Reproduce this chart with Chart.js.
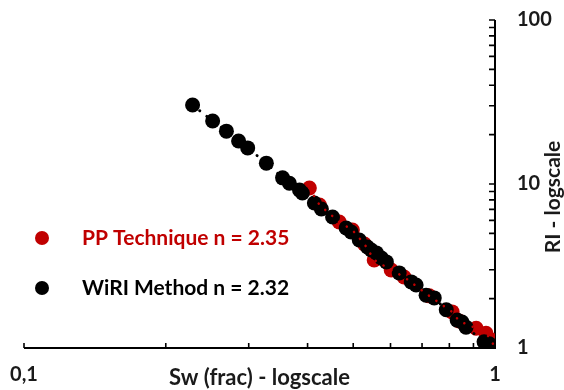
<!DOCTYPE html>
<html><head><meta charset="utf-8">
<script src="https://cdn.jsdelivr.net/npm/chart.js@4/dist/chart.umd.min.js"></script>
<style>html,body{margin:0;padding:0;background:#fff}#wrap{width:564px;height:390px}</style>
</head><body><div id="wrap"><canvas id="c" width="564" height="390"></canvas></div>
<script>
// WiRI Method (black)
const wiriSw = [0.228,0.2515,0.269,0.2855,0.2985,0.327,0.354,0.366,0.3845,0.390,0.4135,0.428,0.452,0.483,0.495,0.515,0.536,0.546,0.560,0.574,0.588,0.626,0.664,0.680,0.714,0.743,0.788,0.831,0.851,0.868,0.948,0.972,0.985,1.0];
const wiriRI = [30.3,24.2,21.0,18.3,16.6,13.4,10.9,10.1,9.19,8.81,7.66,7.04,6.29,5.39,5.10,4.56,4.13,3.96,3.80,3.54,3.35,2.87,2.53,2.42,2.10,2.02,1.71,1.48,1.44,1.34,1.09,1.06,1.03,1.0];
// PP Technique (red)
const ppSw = [0.4035,0.424,0.467,0.498,0.528,0.554,0.602,0.641,0.725,0.811,0.839,0.912,0.957,0.981,1.0];
const ppRI = [9.45,7.45,5.87,5.24,4.31,3.44,2.99,2.71,2.08,1.66,1.46,1.32,1.23,1.12,1.0];

const seriesLabels = ['PP Technique n = 2.35','WiRI Method n = 2.32'];
const xAxisTitle = 'Sw (frac) - logscale';
const yAxisTitle = 'RI - logscale';
const xTickValues = [0.1,0.2,0.3,0.4,0.5,0.6,0.7,0.8,0.9,1];
const yTickValues = [1,2,3,4,5,6,7,8,9,10,20,30,40,50,60,70,80,90,100];
const xTickLabels = [[0.1,'0,1'],[1,'1']];
const yTickLabels = [[1,'1'],[10,'10'],[100,'100']];

const RED = '#C00000', BLACK = '#000000';
const FONT = 'Lato, "Open Sans", sans-serif';

const pts = (xs, ys) => xs.map((v,i)=>({x:v, y:ys[i]}));
const findLabel = (list, v) => { for (const [k,l] of list) if (Math.abs(v-k) < 1e-9*k+1e-12) return l; return ''; };

const customPlugin = {
  id: 'custom',
  beforeDatasetsDraw(chart){
    const {ctx, chartArea:a, scales:{x,y}} = chart;
    ctx.save();
    ctx.strokeStyle = '#000';
    ctx.lineWidth = 2;
    ctx.beginPath();
    ctx.moveTo(a.left, a.bottom); ctx.lineTo(a.right, a.bottom);
    ctx.moveTo(a.right, a.bottom+1); ctx.lineTo(a.right, a.top);
    ctx.stroke();
    ctx.lineWidth = 1.6;
    ctx.beginPath();
    x.ticks.forEach(t=>{ const px = x.getPixelForValue(t.value); ctx.moveTo(px, a.bottom); ctx.lineTo(px, a.bottom-5); });
    y.ticks.forEach(t=>{ const py = y.getPixelForValue(t.value); ctx.moveTo(a.right, py); ctx.lineTo(a.right-6, py); });
    ctx.stroke();
    ctx.restore();
  },
  afterDraw(chart){
    const {ctx, chartArea:a} = chart;
    ctx.save();
    ctx.fillStyle = '#1a1a1a';
    ctx.textAlign = 'center';
    ctx.textBaseline = 'middle';
    ctx.font = 'bold 22px ' + FONT;
    ctx.fillText(xAxisTitle, (a.left + a.right)/2, a.bottom + 30);
    ctx.font = 'bold 21px ' + FONT;
    ctx.save();
    ctx.translate(a.right + 58, (a.top + a.bottom)/2 + 13);
    ctx.rotate(-Math.PI/2);
    ctx.fillText(yAxisTitle, 0, 0);
    ctx.restore();
    // legend inside plot
    const items = [[seriesLabels[0], RED, 238],[seriesLabels[1], BLACK, 288]];
    items.forEach(([txt,col,yy])=>{
      ctx.fillStyle = col;
      ctx.beginPath(); ctx.arc(a.left + 18, yy, 7, 0, Math.PI*2); ctx.fill();
      ctx.textAlign = 'left';
      ctx.fillText(txt, a.left + 58, yy);
    });
    ctx.restore();
  }
};

new Chart(document.getElementById('c'), {
  type: 'scatter',
  data: {
    datasets: [
      { label: 'ppLine', data: pts(ppSw, ppRI), showLine: true, pointRadius: 0, borderColor: RED, borderWidth: 2.5, borderDash: [0.1, 9], borderCapStyle: 'round', order: 0 },
      { label: seriesLabels[1], data: pts(wiriSw, wiriRI), showLine: true, borderColor: BLACK, borderWidth: 3, borderDash: [0.1, 9], borderCapStyle: 'round', pointRadius: 7.5, pointBackgroundColor: BLACK, pointBorderWidth: 0, order: 1 },
      { label: seriesLabels[0], data: pts(ppSw, ppRI), pointRadius: 7.5, pointBackgroundColor: RED, pointBorderWidth: 0, order: 2 }
    ]
  },
  options: {
    responsive: false,
    animation: false,
    layout: { padding: { left: 24, top: 20, right: 0, bottom: 0 } },
    plugins: { legend: { display: false }, tooltip: { enabled: false } },
    scales: {
      x: {
        type: 'logarithmic', min: 0.1, max: 1, position: 'bottom',
        grid: { display: false, drawTicks: true, tickLength: 15 }, border: { display: false },
        afterBuildTicks(s){ s.ticks = xTickValues.map(v=>({value:v})); },
        afterFit(s){ s.height = 42; },
        ticks: { autoSkip: false, maxRotation: 0, padding: 0, color: '#1a1a1a',
          font: { family: FONT, size: 20, weight: 'bold' },
          callback: (v) => findLabel(xTickLabels, v) }
      },
      y: {
        type: 'logarithmic', min: 1, max: 100, position: 'right',
        grid: { display: false, drawTicks: true, tickLength: 22 }, border: { display: false },
        afterBuildTicks(s){ s.ticks = yTickValues.map(v=>({value:v})); },
        afterFit(s){ s.width = 69; },
        ticks: { autoSkip: false, padding: 0, color: '#1a1a1a',
          font: { family: FONT, size: 20, weight: 'bold' },
          callback: (v) => findLabel(yTickLabels, v) }
      }
    }
  },
  plugins: [customPlugin]
});
</script>
</body></html>
